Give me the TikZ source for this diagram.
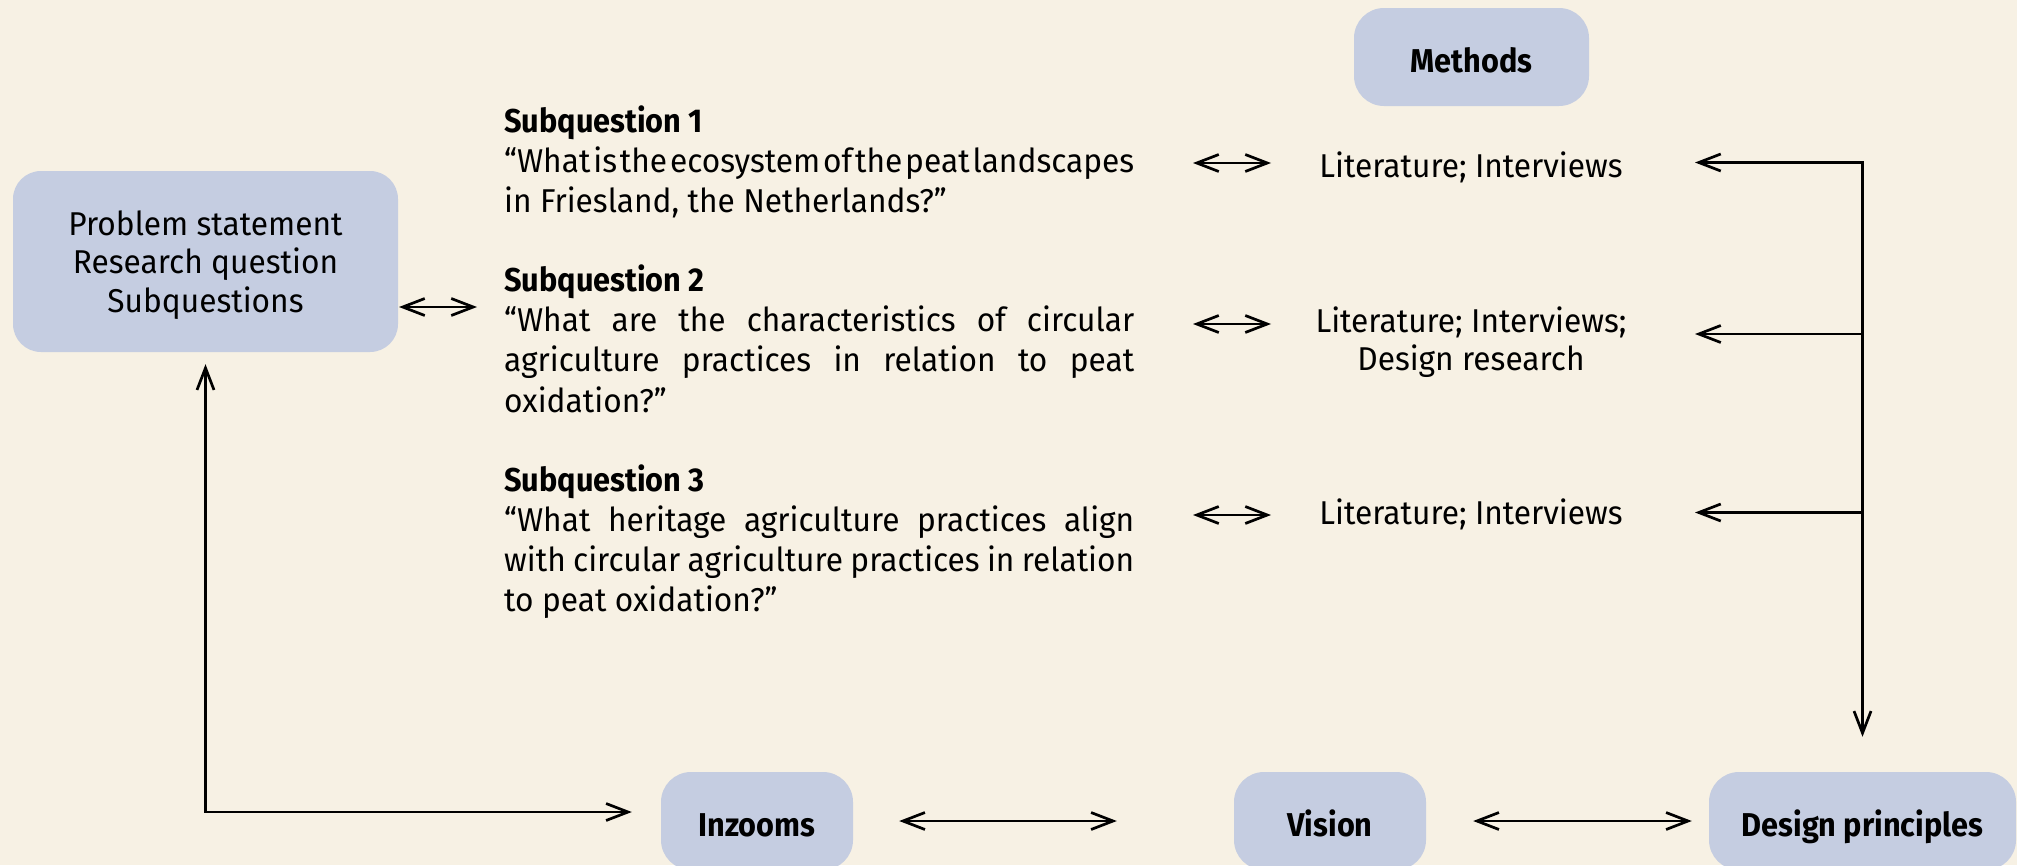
\documentclass[tikz,border=0pt]{standalone}
\usepackage{fontspec}
\setmainfont{Fira Sans}[FakeStretch=0.96, BoldFeatures={FakeStretch=0.93}]
\usetikzlibrary{arrows.meta}
\definecolor{paper}{HTML}{F7F1E4}
\definecolor{boxblue}{HTML}{C5CDE1}
% a justified line of the question column
\newcommand{\jline}[1]{\makebox[630pt][s]{\spaceskip=0.24em plus 1fil minus 0.2em #1}}

\begin{document}
\begin{tikzpicture}[x=1pt,y=-1pt,
  >={Straight Barb[length=22pt,width=17pt]},
  box/.style={fill=boxblue, draw=none, rounded corners=30pt, inner sep=0pt,
    text height=30pt, text depth=0pt, font=\fontsize{33}{38}\selectfont\bfseries},
  txt/.style={inner sep=0pt, font=\fontsize{33}{40}\selectfont},
  link/.style={line width=2.7pt}
]
% canvas
\useasboundingbox (0,0) rectangle (2017,865);
\fill[paper] (0,0) rectangle (2017,865);

% blocks
\node[box, minimum width=385pt, minimum height=181pt, rounded corners=28pt] (prob) at (205.5,261.5) {};
\node[txt, anchor=base] (probtext) at (205.5,235)
  {\parbox[t]{370pt}{\centering\baselineskip=38.5pt Problem statement\\Research question\\Subquestions}};

\node[box, minimum width=235pt, minimum height=98pt] (meth) at (1471.5,57) {Methods};
\node[box, minimum width=192pt, minimum height=98pt] (inz) at (757,821) {Inzooms};
\node[box, minimum width=192pt, minimum height=98pt] (vis) at (1330,821) {Vision};
\node[box, minimum width=307pt, minimum height=98pt] (des) at (1862.5,821) {Design principles};

% subquestions
\node[txt, anchor=base west] (sq1) at (504,132) {\parbox[t]{630pt}{\baselineskip=40pt
  \textbf{Subquestion 1}\\
  \jline{“What is the ecosystem of the peat landscapes}\\
  in Friesland, the Netherlands?”}};
\node[txt, anchor=base west] (sq2) at (504,291.5) {\parbox[t]{630pt}{\baselineskip=40.2pt
  \textbf{Subquestion 2}\\
  \jline{“What are the characteristics of circular}\\
  \jline{agriculture practices in relation to peat}\\
  oxidation?”}};
\node[txt, anchor=base west] (sq3) at (504,491) {\parbox[t]{630pt}{\baselineskip=40pt
  \textbf{Subquestion 3}\\
  \jline{“What heritage agriculture practices align}\\
  \jline{with circular agriculture practices in relation}\\
  to peat oxidation?”}};

% methods per subquestion
\node[txt, anchor=base] (lit1) at (1471,177.5) {Literature; Interviews};
\node[txt, anchor=base] (lit2) at (1471,332)
  {\parbox[t]{400pt}{\centering\baselineskip=38pt Literature; Interviews;\\Design research}};
\node[txt, anchor=base] (lit3) at (1471,524) {Literature; Interviews};

% arrow end points
\coordinate (p1) at (399,307);   \coordinate (p2) at (477,307);
\coordinate (q1a) at (1193,163); \coordinate (q1b) at (1271,163);
\coordinate (q2a) at (1193,324); \coordinate (q2b) at (1271,324);
\coordinate (q3a) at (1193,515); \coordinate (q3b) at (1271,515);
\coordinate (m1) at (1695,162.5);
\coordinate (m2) at (1695,334);
\coordinate (m3) at (1695,512.5);
\coordinate (loop) at (0,812);

% connectors
\draw[link,<->] (p1) -- (p2);
\draw[link,<->] (q1a) -- (q1b);
\draw[link,<->] (q2a) -- (q2b);
\draw[link,<->] (q3a) -- (q3b);
\draw[link,<->, shorten >=35pt] (m1) -- (des.north |- m1) -- (des.north);
\draw[link,->] (des.north |- m2) -- (m2);
\draw[link,->] (des.north |- m3) -- (m3);
\draw[link,<->, shorten <=12pt, shorten >=29pt] (prob.south) |- (inz.west |- loop);
\draw[link,<->, shorten <=46pt, shorten >=117pt] (inz.east) -- (vis.west);
\draw[link,<->, shorten <=47pt, shorten >=17pt] (vis.east) -- (des.west);
\end{tikzpicture}
\end{document}
